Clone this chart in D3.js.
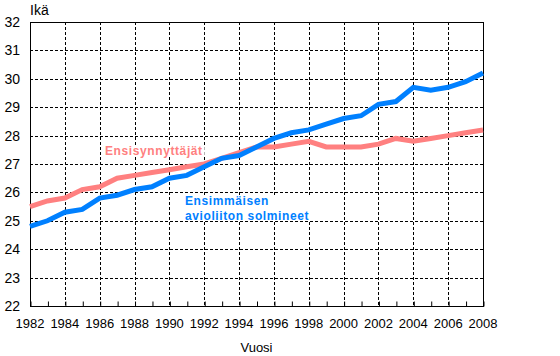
<!DOCTYPE html>
<html>
<head>
<meta charset="utf-8">
<script src="https://cdn.jsdelivr.net/npm/d3@7"></script>
<style>
  body { margin: 0; background: #fff; }
  svg { display: block; font-family: "Liberation Sans", Arial, sans-serif; }
</style>
</head>
<body>
<div id="chart"></div>
<script>
// years on the x axis
const years = d3.range(1982, 2009);
// age at first marriage
const marriageAge = [24.8, 25.0, 25.3, 25.4, 25.8, 25.9, 26.1, 26.2, 26.5, 26.6, 26.9, 27.2, 27.3, 27.6,
  27.9, 28.1, 28.2, 28.4, 28.6, 28.7, 29.1, 29.2, 29.7, 29.6, 29.7, 29.9, 30.2];
// age of first-time mothers
const motherAge = [25.5, 25.7, 25.8, 26.1, 26.2, 26.5, 26.6, 26.7, 26.8, 26.9, 27.0, 27.2, 27.4, 27.6,
  27.6, 27.7, 27.8, 27.6, 27.6, 27.6, 27.7, 27.9, 27.8, 27.9, 28.0, 28.1, 28.2];
const xTickLabels = d3.range(1982, 2009, 2);
const yTickLabels = d3.range(22, 33);

const width = 560, height = 356;
const margin = { top: 22, right: 77, bottom: 50, left: 30 };

const svg = d3.select("#chart").append("svg")
  .attr("width", width)
  .attr("height", height);

const x = d3.scaleLinear().domain([1982, 2008]).range([margin.left, width - margin.right]);
const y = d3.scaleLinear().domain([22, 32]).range([height - margin.bottom, margin.top]);

// dashed grid
svg.append("g")
  .selectAll("line")
  .data(yTickLabels.filter(d => d > 22 && d < 32))
  .join("line")
  .attr("x1", x(1982)).attr("x2", x(2008))
  .attr("y1", d => Math.round(y(d)) + 0.5).attr("y2", d => Math.round(y(d)) + 0.5)
  .attr("stroke", "#000").attr("stroke-dasharray", "3,2");

svg.append("g")
  .selectAll("line")
  .data(xTickLabels.filter(d => d > 1982 && d < 2008))
  .join("line")
  .attr("x1", d => Math.round(x(d)) + 0.5).attr("x2", d => Math.round(x(d)) + 0.5)
  .attr("y1", y(32)).attr("y2", y(22))
  .attr("stroke", "#000").attr("stroke-dasharray", "3,2");

// frame
svg.append("rect")
  .attr("x", x(1982) + 0.5).attr("y", y(32) + 0.5)
  .attr("width", x(2008) - x(1982)).attr("height", y(22) - y(32))
  .attr("fill", "none").attr("stroke", "#000");

// x axis: year ticks pointing up, labels below
const xAxis = svg.append("g")
  .attr("transform", `translate(0.5,${Math.round(y(22)) + 0.5})`)
  .call(d3.axisBottom(x).tickValues(years).tickSizeInner(-5).tickSizeOuter(0).tickFormat(""));
xAxis.select(".domain").remove();
xAxis.selectAll("line").attr("stroke", "#000");

svg.append("g")
  .selectAll("text")
  .data(xTickLabels)
  .join("text")
  .attr("x", d => x(d))
  .attr("y", y(22) + 22)
  .attr("text-anchor", "middle")
  .style("font-size", "13px")
  .text(d => d);

// y labels
svg.append("g")
  .selectAll("text")
  .data(yTickLabels)
  .join("text")
  .attr("x", 20)
  .attr("y", d => y(d) + 5)
  .attr("text-anchor", "end")
  .style("font-size", "14px")
  .text(d => d);

svg.append("text")
  .attr("x", 30).attr("y", 15)
  .style("font-size", "14px")
  .text("Ikä");

svg.append("text")
  .attr("x", (x(1982) + x(2008)) / 2).attr("y", 352)
  .attr("text-anchor", "middle")
  .style("font-size", "13px")
  .text("Vuosi");

// lines
const line = d3.line()
  .x((d, i) => x(years[i]))
  .y(d => y(d));

svg.append("path")
  .datum(motherAge)
  .attr("fill", "none")
  .attr("stroke", "#ff8080")
  .attr("stroke-width", 5)
  .attr("d", line);

svg.append("path")
  .datum(marriageAge)
  .attr("fill", "none")
  .attr("stroke", "#0080ff")
  .attr("stroke-width", 5)
  .attr("d", line);

// series labels, each on a white box that hides the grid behind it
function addLabel(lines, x0, y0, color) {
  const g = svg.append("g");
  const bg = g.append("rect").attr("fill", "#fff");
  const t = g.append("text")
    .attr("x", x0).attr("y", y0)
    .style("font-size", "12px").style("font-weight", "bold")
    .style("letter-spacing", "0.6px")
    .attr("fill", color);
  lines.forEach((s, i) => {
    t.append("tspan").attr("x", x0).attr("dy", i ? 15 : 0).text(s);
  });
  const b = t.node().getBBox();
  bg.attr("x", b.x - 2).attr("y", b.y + 1)
    .attr("width", b.width + 4).attr("height", b.height - 4);
}

addLabel(["Ensisynnyttäjät"], 105, 155, "#ff8080");
addLabel(["Ensimmäisen", "avioliiton solmineet"], 185, 205, "#0080ff");
</script>
</body>
</html>
